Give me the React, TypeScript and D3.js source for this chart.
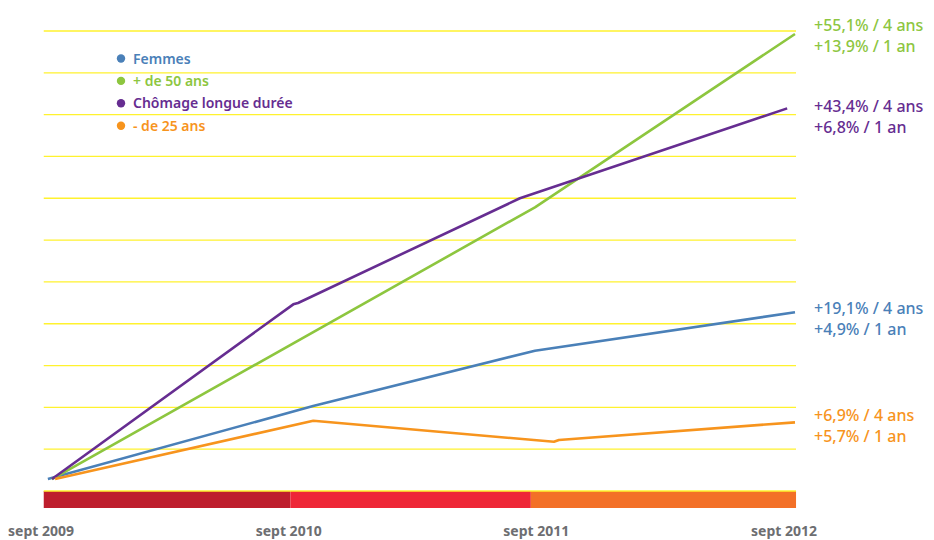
import React from 'react'
import * as d3 from 'd3'

// months since sept 2009 (gridline units, 5 per line)
const femmesMonths = [-0.2, 12.65, 23.4, 36]
const femmesValues = [1.43, 10.16, 16.77, 21.37]
const plus50Months = [0, 23.4, 36]
const plus50Values = [1.43, 33.92, 54.64]
const longueMonths = [0, 11.69, 11.92, 22.67, 35.62]
const longueValues = [1.43, 22.32, 22.48, 35.0, 45.75]
const moins25Months = [0.15, 12.66, 24.32, 24.56, 36]
const moins25Values = [1.43, 8.4, 5.88, 6.1, 8.21]

const seriesNames = ['Femmes', '+ de 50 ans', 'Chômage longue durée', '- de 25 ans']
const seriesColors = ['#4a80b8', '#8dc63f', '#662d91', '#f7941d']
const labels4ans = ['+19,1% / 4 ans', '+55,1% / 4 ans', '+43,4% / 4 ans', '+6,9% / 4 ans']
const labels1an = ['+4,9% / 1 an', '+13,9% / 1 an', '+6,8% / 1 an', '+5,7% / 1 an']

const tickMonths = [0, 12, 24, 36]
const tickLabels = ['sept 2009', 'sept 2010', 'sept 2011', 'sept 2012']

const bandBreaks = [-0.4, 11.55, 23.2, 36.05]
const bandColors = ['#be1e2d', '#ee2737', '#f37027']

const gridValues = d3.range(0, 56, 5)

export default function App() {
  const width = 934, height = 540
  const x = d3.scaleLinear().domain([0, 36]).range([52, 795])
  const y = d3.scaleLinear().domain([0, 55]).range([491, 31])

  const series = [
    {m: femmesMonths, v: femmesValues},
    {m: plus50Months, v: plus50Values},
    {m: longueMonths, v: longueValues},
    {m: moins25Months, v: moins25Values},
  ]
  const line = d3.line<[number, number]>().x(d => x(d[0])).y(d => y(d[1]))
  const labelShift = [1.5, -3.5, 4, -1] // baseline offset of the end labels

  const font = '"Noto Sans", sans-serif'

  return (
    <div style={{position: 'absolute', left: 0, top: 0}}>
      <svg width={width} height={height} style={{display: 'block', background: '#fff'}}>
        {bandColors.map((c, i) => (
          <rect key={i} x={x(bandBreaks[i])} y={y(0)} width={x(bandBreaks[i + 1]) - x(bandBreaks[i])}
                height={17} fill={c}/>
        ))}
        {gridValues.map(g => (
          <line key={g} x1={x(bandBreaks[0])} x2={x(bandBreaks[3])} y1={y(g)} y2={y(g)}
                stroke="#fff22e" strokeWidth={1.3}/>
        ))}
        {series.map((s, i) => (
          <path key={i} d={line(s.m.map((m, j) => [m, s.v[j]] as [number, number])) || ''}
                fill="none" stroke={seriesColors[i]} strokeWidth={2.6} strokeLinejoin="round"/>
        ))}
        {series.map((s, i) => {
          const base = y(s.v[s.v.length - 1]) + labelShift[i]
          return (
            <g key={i} fontFamily={font} fontSize={16} fontWeight={500} fill={seriesColors[i]}>
              <text x={814} y={base}>{labels4ans[i]}</text>
              <text x={814} y={base + 21}>{labels1an[i]}</text>
            </g>
          )
        })}
        <g fontFamily={font} fontSize={14} fontWeight={600}>
          {seriesNames.map((n, i) => (
            <g key={n} transform={`translate(121,${58.5 + i * 22.4})`}>
              <circle r={4.2} fill={seriesColors[i]}/>
              <text x={12} y={5} fill={seriesColors[i]}>{n}</text>
            </g>
          ))}
        </g>
        <g fontFamily={font} fontSize={14} fontWeight={700} fill="#6d6e71" textAnchor="middle">
          {tickMonths.map((m, i) => (
            <text key={m} x={x(m) - 11} y={535.5}>{tickLabels[i]}</text>
          ))}
        </g>
      </svg>
    </div>
  )
}
